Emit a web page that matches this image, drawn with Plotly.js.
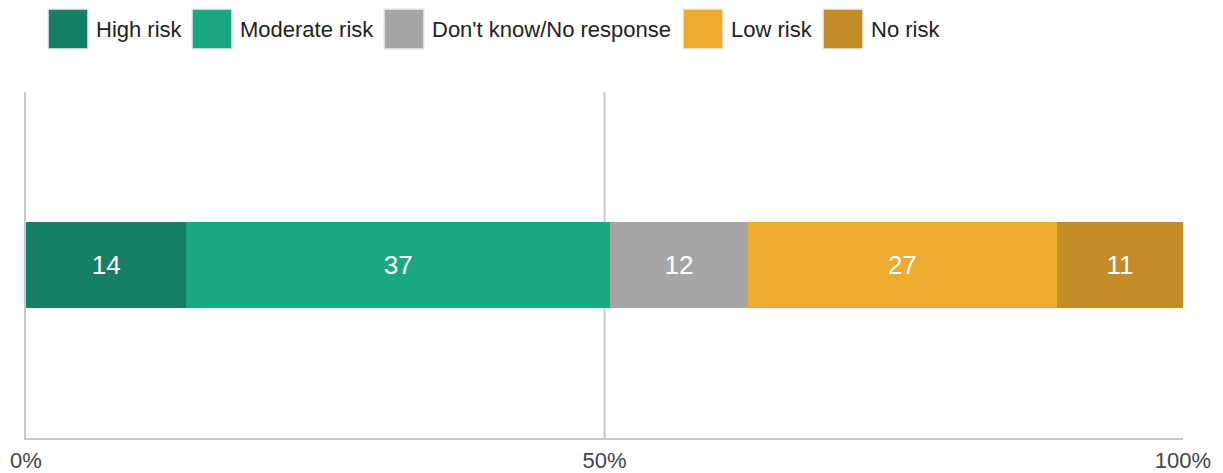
<!DOCTYPE html>
<html>
<head>
<meta charset="utf-8">
<script src="https://cdn.plot.ly/plotly-3.0.1.min.js"></script>
<style>
html,body{margin:0;padding:0;background:#fff;}
#chart{width:1223px;height:473px;}
</style>
</head>
<body>
<div id="chart"></div>
<script>
// ---- data ----
var categories = ["High risk", "Moderate risk", "Don't know/No response", "Low risk", "No risk"];
var values = [14, 37, 12, 27, 11];
var colors = ["#177f65", "#1ba784", "#a6a6a6", "#edac2e", "#c48c26"];
var tickVals = [0, 50, 100];
var tickText = ["0%", "50%", "100%"];

// ---- layout constants (pixels) ----
var W = 1223, H = 473;
var M = {l: 26, r: 40, t: 92, b: 35};
var legendBoxX = [48, 192, 384, 683, 823];
var legendBoxY = 9, legendBox = 40;

var plotW = W - M.l - M.r, plotH = H - M.t - M.b;
function px2x(px){ return (px - M.l) / plotW; }
function py2y(py){ return (H - M.b - py) / plotH; }

var traces = categories.map(function(name, i){
  return {
    type: 'bar',
    orientation: 'h',
    name: name,
    y: ['row'],
    x: [values[i]],
    text: [String(values[i])],
    texttemplate: '%{text}',
    textposition: 'inside',
    insidetextanchor: 'middle',
    textangle: 0,
    constraintext: 'none',
    insidetextfont: {family: 'Liberation Sans, Arial, sans-serif', size: 26, color: '#ffffff'},
    marker: {color: colors[i], line: {width: 0}},
    hoverinfo: 'none'
  };
});

var shapes = [
  {type: 'line', xref: 'x', yref: 'paper', x0: 50, x1: 50, y0: 0, y1: 1,
   line: {color: '#c8c8c8', width: 2}, layer: 'below'}
];
var annotations = [];
categories.forEach(function(name, i){
  var x0 = legendBoxX[i];
  shapes.push({type: 'rect', xref: 'paper', yref: 'paper',
    x0: px2x(x0), x1: px2x(x0 + legendBox),
    y0: py2y(legendBoxY + legendBox), y1: py2y(legendBoxY),
    fillcolor: colors[i], line: {color: '#eeeeee', width: 1.5}});
  annotations.push({xref: 'paper', yref: 'paper',
    x: px2x(x0 + legendBox + 6), y: py2y(legendBoxY + legendBox / 2),
    xanchor: 'left', yanchor: 'middle', showarrow: false,
    text: name, font: {family: 'Liberation Sans, Arial, sans-serif', size: 22, color: '#222222'}});
});

var layout = {
  width: W, height: H,
  margin: M,
  paper_bgcolor: '#ffffff', plot_bgcolor: '#ffffff',
  barmode: 'stack',
  barnorm: 'percent',
  bargap: 0.75,
  showlegend: false,
  font: {family: 'Liberation Sans, Arial, sans-serif'},
  xaxis: {
    range: [0, 100], fixedrange: true,
    tickvals: tickVals, ticktext: tickText,
    tickfont: {size: 22, color: '#444444'},
    showgrid: false, zeroline: false,
    showline: true, linecolor: '#c8c8c8', linewidth: 2,
    ticks: '', ticklabelstandoff: 2
  },
  yaxis: {
    fixedrange: true, showticklabels: false, showgrid: false, zeroline: false,
    showline: true, linecolor: '#c8c8c8', linewidth: 2, ticks: ''
  },
  shapes: shapes,
  annotations: annotations
};

Plotly.newPlot('chart', traces, layout, {displayModeBar: false, staticPlot: true});
</script>
</body>
</html>
